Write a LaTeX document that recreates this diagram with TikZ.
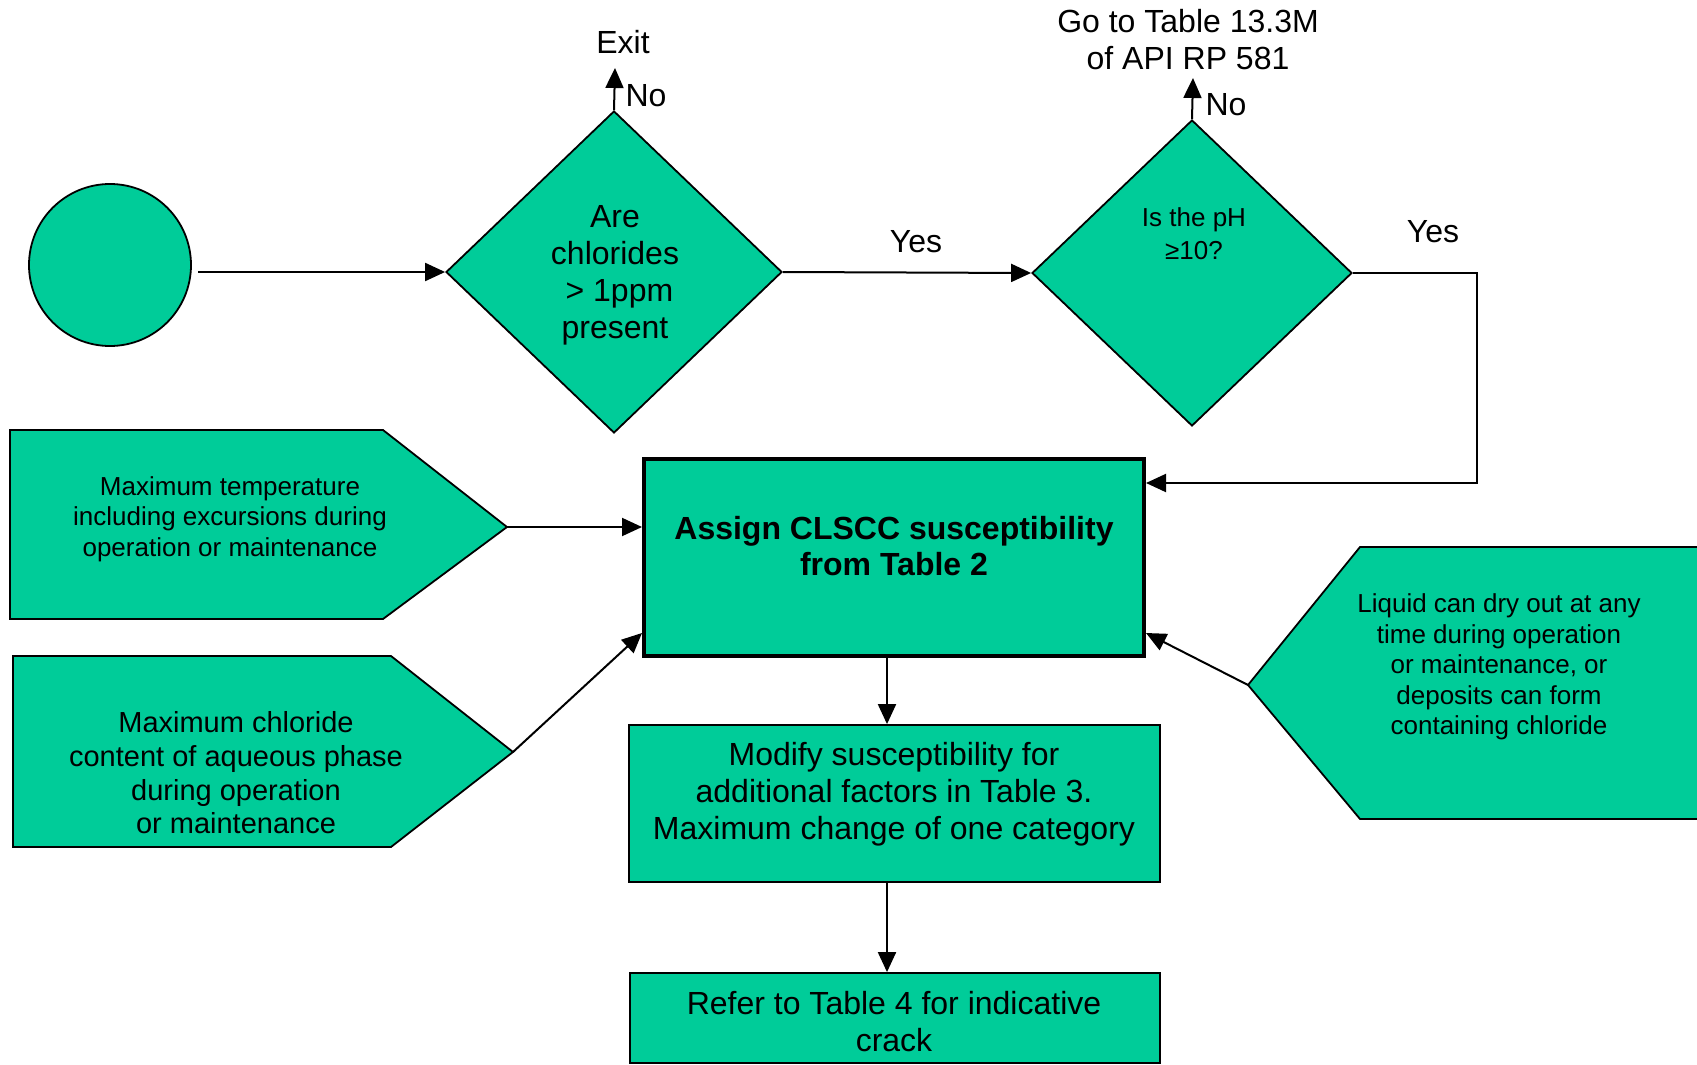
\documentclass[tikz,border=0pt]{standalone}
\usepackage{fontspec}
\setmainfont{Liberation Sans}
\usetikzlibrary{shapes.geometric,arrows.meta}
\definecolor{boxfill}{HTML}{00CC99}
\begin{document}
\begin{tikzpicture}[x=1pt,y=-1pt,
  shapebox/.style={draw=black, fill=boxfill, line width=1.8pt, inner sep=0pt},
  conn/.style={line width=2pt, -{Triangle[length=20pt,width=18pt]}},
  bigtxt/.style={font=\fontsize{32}{37}\selectfont, align=center, inner sep=0pt},
  boldtxt/.style={font=\fontsize{32}{36}\selectfont\bfseries, align=center, inner sep=0pt},
  smalltxt/.style={font=\fontsize{26}{30.5}\selectfont, align=center, inner sep=0pt},
  midtxt/.style={font=\fontsize{29}{33.7}\selectfont, align=center, inner sep=0pt},
  dtxt/.style={font=\fontsize{26}{33}\selectfont, align=center, inner sep=0pt}]
\useasboundingbox (0,0) rectangle (1697,1065);

% input pentagons
\draw[shapebox] (10,430) -- (383,430) -- (507,527) -- (383,619) -- (10,619) -- cycle;
\coordinate (t1) at (507,527);
\draw[shapebox] (13,656) -- (391,656) -- (513,752) -- (391,847) -- (13,847) -- cycle;
\coordinate (t2) at (513,752);
\draw[shapebox] (1710,547) -- (1360,547) -- (1248,685) -- (1360,819) -- (1710,819) -- cycle;
\coordinate (t3) at (1248,685);

\node[smalltxt] (p1txt) at (230,519) {Maximum temperature\\including excursions during\\operation or maintenance};
\node[midtxt] (p2txt) at (236,773) {Maximum chloride\\content of aqueous phase\\during operation\\or maintenance};
\node[smalltxt] (p3txt) at (1499,667) {Liquid can dry out at any\\time during operation\\or maintenance, or\\deposits can form\\containing chloride};

% start and decisions
\node[circle, shapebox, minimum size=162pt] (start) at (110,265) {};
\node[diamond, shapebox, minimum width=336pt, minimum height=322pt] (d1) at (614,272) {};
\node[diamond, shapebox, minimum width=320pt, minimum height=306pt] (d2) at (1192,273) {};

\node[bigtxt] (d1txt) at (615,275) {Are\\chlorides\\\ > 1ppm\\present};
\node[dtxt] (d2txt) at (1194,234) {Is the pH\\≥10?};

% process boxes
\node[draw=black, fill=boxfill, line width=4pt, minimum width=500pt, minimum height=197pt, inner sep=0pt] (main) at (894,557.5) {};
\node[shapebox, minimum width=531pt, minimum height=157pt] (b2) at (894.5,803.5) {};
\node[shapebox, minimum width=530pt, minimum height=90pt] (b3) at (895,1018) {};

\node[boldtxt] (mtxt) at (894,546) {Assign CLSCC susceptibility\\from Table 2};
\node[bigtxt] (b2txt) at (894,794) {Modify susceptibility for\\additional factors in Table 3.\\Maximum change of one category};
\node[bigtxt] (b3txt) at (894,1022) {Refer to Table 4 for indicative\\crack};

% labels
\node[bigtxt] (exit) at (623,42) {Exit};
\node[bigtxt] (goto) at (1188,40) {Go to Table 13.3M\\of API RP 581};
\node[bigtxt] (no1) at (646,96) {No};
\node[bigtxt] (no2) at (1226,105) {No};
\node[bigtxt] (yes1) at (916,242) {Yes};
\node[bigtxt] (yes2) at (1433,232) {Yes};

% connectors
\coordinate (c0) at (198,272);
\draw[conn] (c0) -- (d1.west);
\draw[conn] (d1.east) -- (d2.west);
\coordinate (e1) at (615,68);
\draw[conn] (d1.north) -- (e1);
\coordinate (e2) at (1193,78);
\draw[conn] (d2.north) -- (e2);
\coordinate (r1) at (1477,273);
\coordinate (r2) at (1477,483);
\draw[conn] (d2.east) -- (r1) -- (r2) -- (main.east |- r2);
\draw[conn] (t1) -- (main.west |- t1);
\coordinate (m2) at (642,633);
\draw[conn] (t2) -- (m2);
\coordinate (m3) at (1146,633);
\draw[conn] (t3) -- (m3);
\coordinate (ax) at (887,0);
\draw[conn] (main.south -| ax) -- (b2.north -| ax);
\draw[conn] (b2.south -| ax) -- (b3.north -| ax);
\end{tikzpicture}
\end{document}
